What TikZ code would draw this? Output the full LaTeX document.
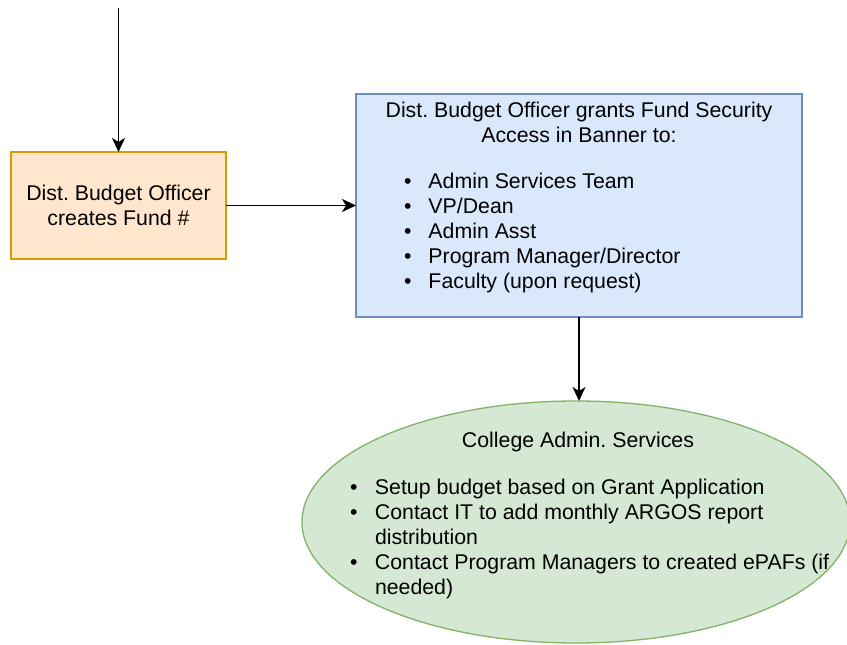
\documentclass[tikz,border=0pt]{standalone}
\usepackage{fontspec}
\setmainfont{Liberation Sans}
\usetikzlibrary{arrows.meta,shapes.geometric}
\definecolor{ofill}{HTML}{FFE6CC}
\definecolor{odraw}{HTML}{D79B00}
\definecolor{bfill}{HTML}{DAE8FC}
\definecolor{bdraw}{HTML}{6C8EBF}
\definecolor{gfill}{HTML}{D5E8D4}
\definecolor{gdraw}{HTML}{82B366}
\frenchspacing
\newcommand{\bulletline}[2]{\noindent\makebox[#1][l]{\textbullet}#2\par}
\newcommand{\contline}[2]{\noindent\hspace*{#1}#2\par}
\begin{document}
\begin{tikzpicture}[x=1pt,y=-1pt,
  every node/.style={font=\fontsize{21.3}{25}\selectfont, inner sep=0pt, outer sep=0pt},
  shapebox/.style={draw, line width=1.3pt},
  conn/.style={line width=1.8pt, -{Stealth[length=14pt,width=13pt,inset=4pt]}},
  ]
\useasboundingbox (0,0) rectangle (847,645);

\coordinate (top) at (118.5,8);

\node[shapebox, draw=odraw, fill=ofill, minimum width=215pt, minimum height=107pt, align=center] (fund) at (118.5,205.5) {Dist. Budget Officer\\creates Fund \#};

\node[shapebox, draw=bdraw, fill=bfill, minimum width=446pt, minimum height=223pt] (grant) at (579,205.5) {};
\node[anchor=base] (granttitle) at (579,117) {\begin{minipage}[t]{440pt}\centering\baselineskip=25pt Dist. Budget Officer grants Fund Security\\ Access in Banner to:\end{minipage}};
\node[anchor=base west] (grantlist) at (404,188) {\begin{minipage}[t]{380pt}\baselineskip=25pt\parskip=0pt
\bulletline{24.5pt}{Admin Services Team}
\bulletline{24.5pt}{VP/Dean}
\bulletline{24.5pt}{Admin Asst}
\bulletline{24.5pt}{Program Manager/Director}
\bulletline{24.5pt}{Faculty (upon request)}
\end{minipage}};

\node[shapebox, draw=gdraw, fill=gfill, ellipse, minimum width=548pt, minimum height=242pt] (admin) at (576,522) {};
\node[anchor=base] (admintitle) at (578,447) {College Admin. Services};
\node[anchor=base west] (adminlist) at (350,494) {\begin{minipage}[t]{500pt}\baselineskip=25pt\parskip=0pt
\bulletline{25pt}{Setup budget based on Grant Application}
\bulletline{25pt}{Contact IT to add monthly ARGOS report}
\contline{25pt}{distribution}
\bulletline{25pt}{Contact Program Managers to created ePAFs (if}
\contline{25pt}{needed)}
\end{minipage}};

\draw[conn] (top) -- (fund);
\draw[conn] (fund) -- (grant);
\draw[conn] (grant.south) -- (grant.south |- admin.north);
\end{tikzpicture}
\end{document}
